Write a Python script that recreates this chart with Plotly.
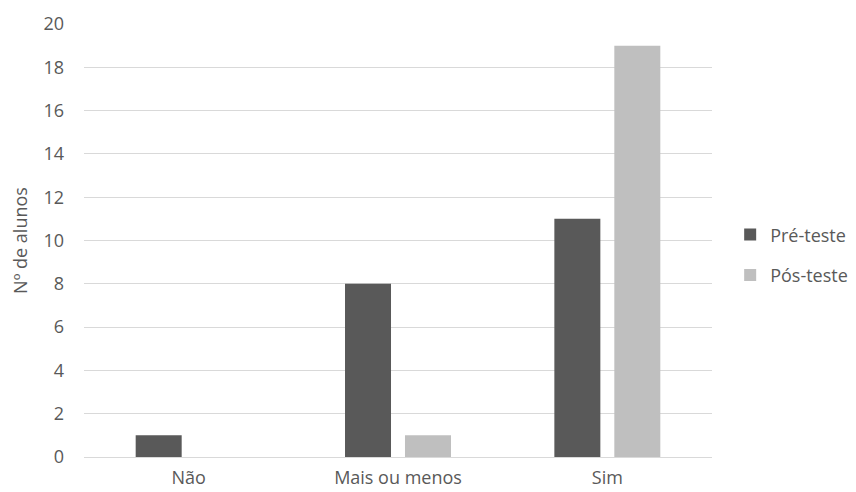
import plotly.graph_objects as go

categorias = ["Não", "Mais ou menos", "Sim"]
pre_teste = [1, 8, 11]
pos_teste = [0, 1, 19]
y_ticks = [0, 2, 4, 6, 8, 10, 12, 14, 16, 18, 20]

texto = "#595959"
fonte = "Open Sans"

fig = go.Figure()
fig.add_trace(go.Bar(name="Pré-teste", x=categorias, y=pre_teste, legendgroup="pre",
                     marker=dict(color="#595959", line=dict(color="#595959", width=0))))
fig.add_trace(go.Bar(name="Pós-teste", x=categorias, y=pos_teste, legendgroup="pos",
                     marker=dict(color="#bfbfbf", line=dict(color="#bfbfbf", width=0))))

fig.update_layout(
    width=856, height=492,
    margin=dict(l=84, r=144, t=24, b=35),
    paper_bgcolor="white", plot_bgcolor="white",
    barmode="group", bargap=0.427, bargroupgap=0.233,
    font=dict(family=fonte, size=18, color=texto),
    legend=dict(xref="container", yref="container", x=0.853, y=0.482,
                xanchor="left", yanchor="middle",
                font=dict(size=18, color=texto), tracegroupgap=14,
                itemwidth=30),
    xaxis=dict(showgrid=False, showline=False, ticks="", automargin=False,
               ticklabelstandoff=8,
               tickfont=dict(size=18, color=texto)),
    yaxis=dict(range=[0, 20], tickvals=y_ticks, showgrid=True, automargin=False,
               gridcolor="#d9d9d9", gridwidth=1, zeroline=True,
               zerolinecolor="#d9d9d9", zerolinewidth=1, showline=False,
               ticks="", ticklabelstandoff=19,
               tickfont=dict(size=18, color=texto),
               title=dict(text="Nº de alunos", standoff=11,
                          font=dict(size=18, color=texto))),
)

fig.write_html("out.html")
